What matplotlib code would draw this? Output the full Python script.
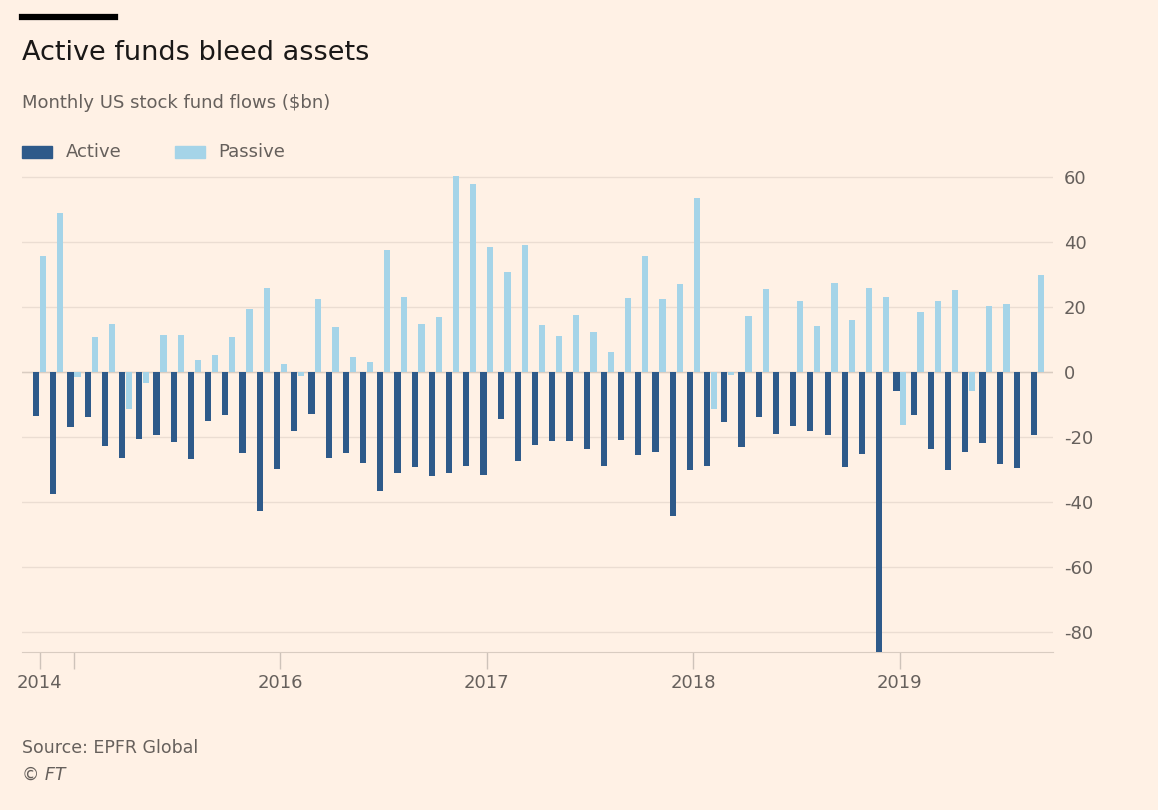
import matplotlib.pyplot as plt
import numpy as np

active = [-13.7, -37.5, -17, -14, -23, -26.5, -20.7, -19.6, -21.6, -27, -15.3, -13.4,
          -25, -42.8, -30, -18.4, -13.1, -26.5, -25.1, -28.2, -36.8, -31.2, -29.2, -32,
          -31.3, -28.9, -31.8, -14.6, -27.4, -22.5, -21.2, -21.3, -23.7, -29, -20.9, -25.7,
          -24.7, -44.5, -30.3, -28.9, -15.6, -23.3, -13.8, -19.1, -16.6, -18.4, -19.4, -29.2,
          -25.3, -90, -6, -13.3, -23.8, -30.2, -24.6, -22, -28.5, -29.7, -19.4]
passive = [35.5, 48.8, -1.5, 10.7, 14.5, -11.4, -3.5, 11.2, 11.2, 3.7, 5.1, 10.8,
           19.4, 25.6, 2.4, -1.4, 22.2, 13.8, 4.6, 2.9, 37.3, 22.8, 14.6, 16.8,
           60.3, 57.6, 38.4, 30.6, 38.8, 14.4, 10.9, 17.4, 12.1, 5.9, 22.7, 35.5,
           22.4, 27, 53.3, -11.4, -1.1, 17, 25.5, 0, 21.7, 13.9, 27.4, 15.8,
           25.8, 22.9, -16.4, 18.4, 21.8, 25, -5.9, 20.1, 20.7, 0, 29.7]
tick_idx = [0, 2, 14, 26, 38, 50]
tick_labels = ["2014", "", "2016", "2017", "2018", "2019"]
yticks = [60, 40, 20, 0, -20, -40, -60, -80]

bg = "#FFF1E5"
dark = "#2E5A8A"
light = "#A5D4E8"
grey = "#66605C"

fig = plt.figure(figsize=(11.58, 8.1), dpi=100, facecolor=bg)
ax = fig.add_axes([22/1158, 1-652/810, (1053-22)/1158, (652-170)/810], facecolor=bg)

x = np.arange(len(active))
w = 0.36
ax.bar(x - 0.2, active, width=w, color=dark, zorder=3)
ax.bar(x + 0.2, passive, width=w, color=light, zorder=3)

ax.set_xlim(-1.02, 58.9)
ax.set_ylim(-86.2, 62)
ax.yaxis.tick_right()
ax.set_yticks(yticks)
ax.set_yticklabels([str(v) for v in yticks])
ax.tick_params(axis="y", length=0, labelsize=13, labelcolor=grey, pad=8)
ax.grid(axis="y", color="#EBDDD2", linewidth=1, zorder=0)
ax.axhline(0, color="#D9CCC1", linewidth=1, zorder=2)
ax.set_xticks(tick_idx)
ax.set_xticklabels(tick_labels)
ax.tick_params(axis="x", length=12, width=1, color="#CEC3BA", labelsize=13,
               labelcolor=grey, pad=4)
for s in ["top", "right", "left"]:
    ax.spines[s].set_visible(False)
ax.spines["bottom"].set_color("#D9CCC1")

fig.add_artist(plt.Line2D([22/1158, 115/1158], [1-17/810, 1-17/810], color="black",
                          linewidth=4.5, transform=fig.transFigure))
fig.text(22/1158, 1-53/810, "Active funds bleed assets", fontsize=19.5, color="#1A1817",
         va="center")
fig.text(22/1158, 1-103/810, "Monthly US stock fund flows ($bn)", fontsize=13,
         color=grey, va="center")
fig.patches.append(plt.Rectangle((22/1158, 1-158/810), 30/1158, 12/810, color=dark,
                                 transform=fig.transFigure, figure=fig))
fig.text(66/1158, 1-152/810, "Active", fontsize=13, color=grey, va="center")
fig.patches.append(plt.Rectangle((175/1158, 1-158/810), 30/1158, 12/810, color=light,
                                 transform=fig.transFigure, figure=fig))
fig.text(218/1158, 1-152/810, "Passive", fontsize=13, color=grey, va="center")
fig.text(22/1158, 1-748/810, "Source: EPFR Global", fontsize=12.5, color=grey, va="center")
fig.text(22/1158, 1-775/810, "© FT", fontsize=12.5, color=grey, va="center", style="italic")

fig.savefig("out.png", dpi=100, facecolor=bg)
